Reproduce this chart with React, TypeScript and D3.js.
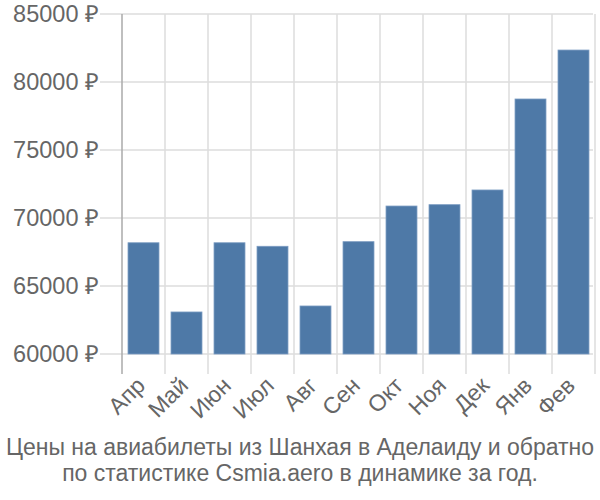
import React from "react";
import * as d3 from "d3";

const months = ["Апр", "Май", "Июн", "Июл", "Авг", "Сен", "Окт", "Ноя", "Дек", "Янв", "Фев"];
const prices = [68180, 63090, 68180, 67920, 63530, 68260, 70880, 70980, 72060, 78750, 82350];
const yTicks = [60000, 65000, 70000, 75000, 80000, 85000];
const captionLines = [
  "Цены на авиабилеты из Шанхая в Аделаиду и обратно",
  "по статистике Csmia.aero в динамике за год.",
];

const W = 600;
const H = 500;
const left = 122;
const right = 595;
const top = 14;
const bottom = 354;
const font = "'Liberation Sans', Arial, sans-serif";

export default function App() {
  const x = d3.scaleBand<string>().domain(months).range([left, right]).paddingInner(0.28).paddingOuter(0.14);
  const xb = d3.scaleBand<string>().domain(months).range([left, right]);
  const y = d3.scaleLinear().domain([60000, 85000]).range([bottom, top]);

  return (
    <svg width={W} height={H} style={{ position: "absolute", left: 0, top: 0, background: "#fff" }}>
      {yTicks.map((t) => (
        <line key={"h" + t} x1={100} x2={right - 2} y1={y(t)} y2={y(t)} stroke="#dddddd" strokeWidth={1.5} />
      ))}
      {months.map((m) => (
        <line key={"v" + m} x1={(xb(m) as number) + xb.bandwidth()} x2={(xb(m) as number) + xb.bandwidth()} y1={top} y2={bottom + 20} stroke="#dddddd" strokeWidth={1.5} />
      ))}
      <line x1={left} x2={left} y1={top} y2={bottom + 20} stroke="#aaaaaa" strokeWidth={1.5} />
      {months.map((m, i) => (
        <rect
          key={"b" + m}
          x={x(m)}
          y={y(prices[i])}
          width={x.bandwidth()}
          height={bottom - y(prices[i])}
          fill="#4e79a7"
          stroke="#7b9cc2"
          strokeWidth={0.8}
        />
      ))}
      {yTicks.map((t) => (
        <text key={"yl" + t} x={99} y={y(t)} dy="0.36em" textAnchor="end" fontFamily={font} fontSize={23.5} fill="#666666">
          {t + " ₽"}
        </text>
      ))}
      {months.map((m) => {
        const cx = (xb(m) as number) + xb.bandwidth() / 2 + 3;
        const cy = bottom + 33;
        return (
          <text key={"xl" + m} transform={`translate(${cx},${cy}) rotate(-45)`} textAnchor="end" fontFamily={font} fontSize={23} fill="#666666">
            {m}
          </text>
        );
      })}
      {captionLines.map((l, i) => (
        <text key={"c" + i} x={W / 2} y={455 + i * 26} textAnchor="middle" fontFamily={font} fontSize={23} fill="#666666">
          {l}
        </text>
      ))}
    </svg>
  );
}
